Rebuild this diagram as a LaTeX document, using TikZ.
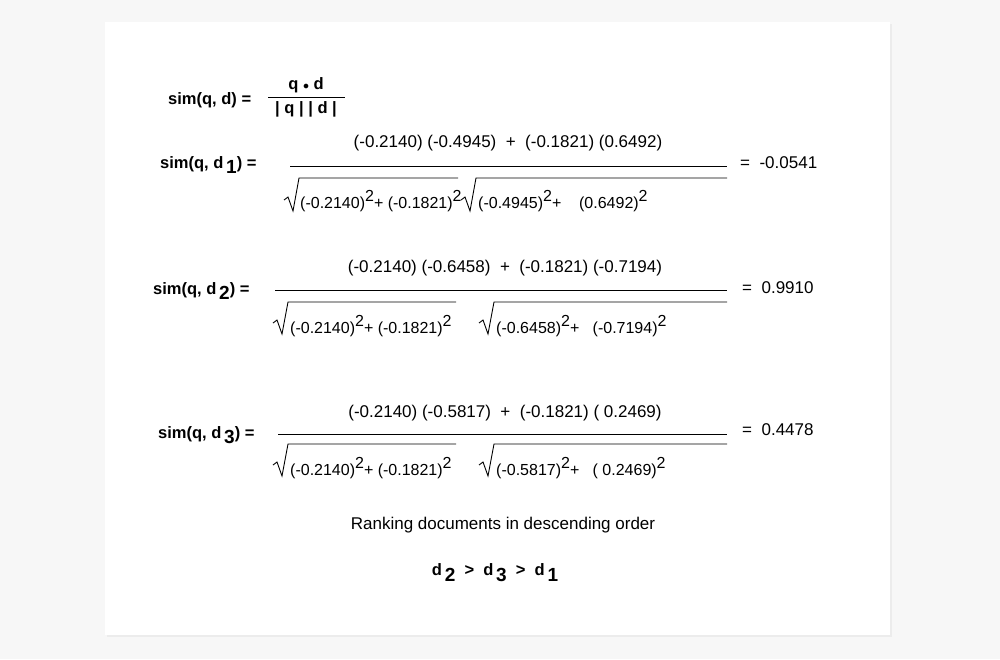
\documentclass[tikz,border=0pt]{standalone}
\usepackage{fontspec}
\setmainfont{Liberation Sans}
\usetikzlibrary{calc}
\newcommand{\sq}{\raisebox{7pt}{2}}
\tikzset{
  num/.style={font=\fontsize{17}{19}\selectfont, inner sep=0pt},
  den/.style={font=\fontsize{16}{18}\selectfont, inner sep=0pt, anchor=west},
  lab/.style={font=\bfseries\fontsize{16.5}{18}\selectfont, inner sep=0pt, anchor=west},
  bar/.style={line width=0.9pt},
  root/.style={line width=0.9pt, line join=miter}
}
\begin{document}
\begin{tikzpicture}[x=1pt,y=-1pt]
	\useasboundingbox (0,0) rectangle (1000,659);
	\fill[gray!6] (0,0) rectangle (1000,659);
	\fill[gray!15] (107,24) rectangle (892,637);
	\fill[white] (105,22) rectangle (890,635);

	% general formula
	\node[lab] (l0) at (168,100) {sim(q, d) =};
	\node[lab, anchor=center] (n0) at (306,85) {q {\large$\bullet$} d};
	\node[lab, anchor=center] (d0) at (306,109) {| q | | d |};
	\draw[bar] (268,97) -- (345,97);

	% d1
	\node[lab] (l1) at (160,165) {sim(q, d\,\raisebox{-5pt}{\fontsize{19}{19}\selectfont1}) =};
	\node[num] (n1) at (508,143) {(-0.2140) (-0.4945) \ + \ (-0.1821) (0.6492)};
	\draw[bar] (290,166) -- (727,166);
	\draw[root] (284,200) -- (288,197) -- (293,211) -- (299,178) -- (458,178);
	\node[den] (a1) at (300,201) {(-0.2140)\sq+ (-0.1821)\sq};
	\draw[root] (461,200) -- (465,197) -- (470,211) -- (476,178) -- (727,178);
	\node[den] (b1) at (478,201) {(-0.4945)\sq+ \ \ \ (0.6492)\sq};
	\node[num, anchor=west] (r1) at (740,163) {= \ -0.0541};

	% d2
	\node[lab] (l2) at (153,291) {sim(q, d\,\raisebox{-5pt}{\fontsize{19}{19}\selectfont2}) =};
	\node[num] (n2) at (505,268) {(-0.2140) (-0.6458) \ + \ (-0.1821) (-0.7194)};
	\draw[bar] (275,290) -- (727,290);
	\draw[root] (273,323) -- (277,320) -- (282,334) -- (288,302) -- (456,302);
	\node[den] (a2) at (290,326) {(-0.2140)\sq+ (-0.1821)\sq};
	\draw[root] (479,323) -- (483,320) -- (488,334) -- (494,302) -- (727,302);
	\node[den] (b2) at (496,326) {(-0.6458)\sq+ \ \ (-0.7194)\sq};
	\node[num, anchor=west] (r2) at (742,288) {= \ 0.9910};

	% d3
	\node[lab] (l3) at (158,435) {sim(q, d\,\raisebox{-5pt}{\fontsize{19}{19}\selectfont3}) =};
	\node[num] (n3) at (505,413) {(-0.2140) (-0.5817) \ + \ (-0.1821) ( 0.2469)};
	\draw[bar] (278,434) -- (727,434);
	\draw[root] (273,465) -- (277,462) -- (282,476) -- (288,444) -- (456,444);
	\node[den] (a3) at (290,468) {(-0.2140)\sq+ (-0.1821)\sq};
	\draw[root] (479,465) -- (483,462) -- (488,476) -- (494,444) -- (727,444);
	\node[den] (b3) at (496,468) {(-0.5817)\sq+ \ \ ( 0.2469)\sq};
	\node[num, anchor=west] (r3) at (742,430) {= \ 0.4478};

	% ranking
	\node[num] (rank) at (503,525) {Ranking documents in descending order};
	\node[lab, anchor=center] (ord) at (495,573) {d\,\raisebox{-6pt}{\fontsize{19}{19}\selectfont2} \ > \ d\,\raisebox{-6pt}{\fontsize{19}{19}\selectfont3} \ > \ d\,\raisebox{-6pt}{\fontsize{19}{19}\selectfont1}};
\end{tikzpicture}
\end{document}
